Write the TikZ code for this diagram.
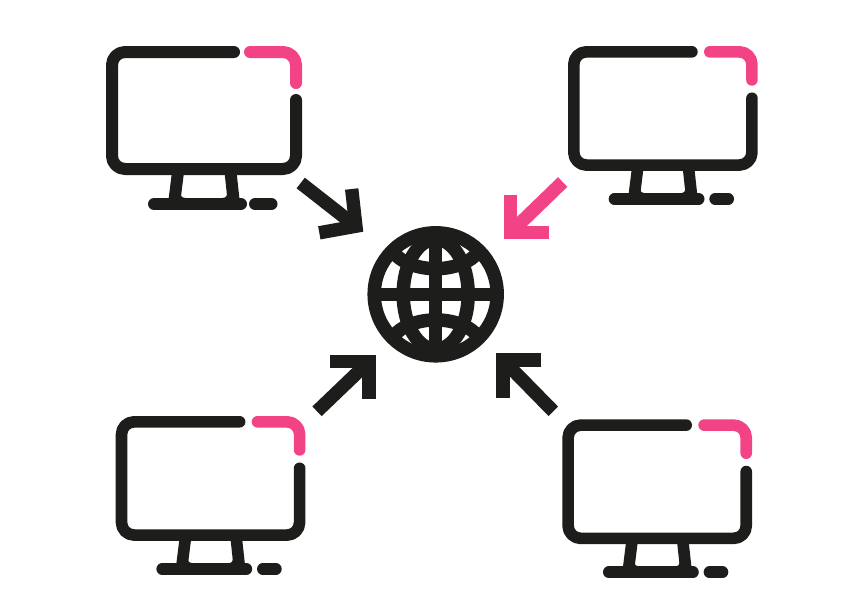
\documentclass[tikz,border=0pt]{standalone}
\definecolor{inkblack}{HTML}{1D1D1B}
\definecolor{hotpink}{HTML}{F34387}
\tikzset{
  stroke/.style={draw=inkblack,line cap=round,line join=round},
  accent/.style={draw=hotpink,line cap=round,line join=round},
  arrowink/.style={line width=13.4pt,line cap=butt,line join=miter,miter limit=10},
  globeline/.style={draw=inkblack,line width=13.5pt,line cap=butt}
}
% #1 name, #2 x, #3 y, #4 scale, #5 pink start, #6 pink end, #7 dot start
\newcommand{\monitor}[7]{%
  \pgfmathsetmacro{\mscale}{#4}
  \pgfmathsetmacro{\mlw}{12*#4}
  \pgfmathsetmacro{\mrad}{13*#4}
  \begin{scope}[shift={(#2,#3)},x=\mscale pt,y=-\mscale pt,line width=\mlw pt]
    \coordinate (#1) at (98,64.5);
    \draw[stroke,rounded corners=\mrad pt] (128,6) -- (6,6) -- (6,123) -- (190,123) -- (190,54);
    \draw[accent,rounded corners=\mrad pt] (#5,6) -- (190,6) -- (190,#6);
    \draw[stroke] (72,126) -- (68,158);
    \draw[stroke] (124.5,126) -- (128,158);
    \draw[stroke] (48,158) -- (135,158);
    \draw[stroke] (#7,158) -- (165.5,158);
    \fill[inkblack] (74.4,146) .. controls (74,150) and (76,152) .. (80,152) -- (73.5,153) -- cycle;
    \fill[inkblack] (121,146) .. controls (121.5,150) and (120,152) .. (116,152) -- (122,153) -- cycle;
  \end{scope}}
\begin{document}
\begin{tikzpicture}[x=1pt,y=-1pt]
\useasboundingbox (0,0) rectangle (842,595);
\fill[white] (0,0) rectangle (842,595);

\monitor{monA}{106}{46}{1}{144}{37}{149}
\monitor{monB}{568}{46}{0.968}{146.5}{35}{152}
\monitor{monC}{115.7}{416}{0.968}{146.5}{35}{152}
\monitor{monD}{562.3}{419.3}{0.968}{146.5}{35}{152}

% globe
\coordinate (globe) at (435.7,294.3);
\draw[globeline] (globe) circle (61.5);
\draw[globeline] (globe) ellipse (32.5 and 55);
\draw[globeline] (374.2,294.3) -- (497.2,294.3);
\draw[globeline] (435.7,232.8) -- (435.7,355.8);
\draw[globeline] (392,251) .. controls (410,274.6) and (461.4,274.6) .. (479.4,251);
\draw[globeline] (392,337.6) .. controls (410,314) and (461.4,314) .. (479.4,337.6);

% arrows
\coordinate (aS) at (300.7,183);
\coordinate (aC) at (355.9,226.2);
\coordinate (aP) at (351.7,189);
\coordinate (aQ) at (319.3,232.8);
\draw[arrowink,inkblack] (aS) -- (aC);
\draw[arrowink,inkblack] (aP) -- (aC) -- (aQ);

\coordinate (bS) at (562.7,182);
\coordinate (bC) at (510.7,232.3);
\coordinate (bP) at (510.7,194.7);
\coordinate (bQ) at (549,232.3);
\draw[arrowink,hotpink] (bS) -- (bC);
\draw[arrowink,hotpink] (bP) -- (bC) -- (bQ);

\coordinate (cS) at (317,411.3);
\coordinate (cC) at (368.8,361.7);
\coordinate (cP) at (368.8,399.3);
\coordinate (cQ) at (330,361.7);
\draw[arrowink,inkblack] (cS) -- (cC);
\draw[arrowink,inkblack] (cP) -- (cC) -- (cQ);

\coordinate (dS) at (553.3,411.3);
\coordinate (dC) at (503,360);
\coordinate (dP) at (503,397.7);
\coordinate (dQ) at (541.3,360);
\draw[arrowink,inkblack] (dS) -- (dC);
\draw[arrowink,inkblack] (dP) -- (dC) -- (dQ);
\end{tikzpicture}
\end{document}
